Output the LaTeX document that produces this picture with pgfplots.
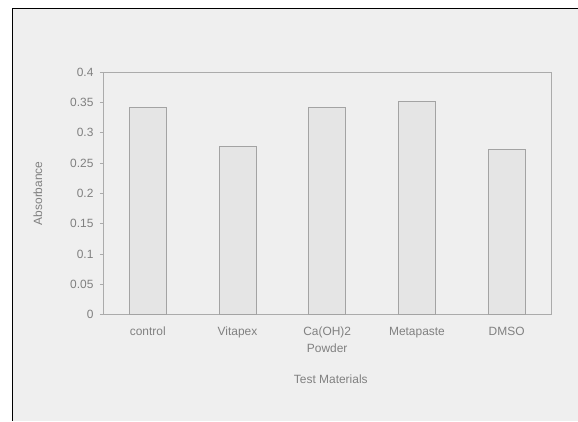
\documentclass[border=0pt]{standalone}
\usepackage{pgfplots}
\pgfplotsset{compat=1.18}
\usepackage{fontspec}
\setmainfont{Liberation Sans}
\definecolor{bg}{HTML}{EFEFEF}
\definecolor{axl}{HTML}{ABABAB}
\definecolor{barf}{HTML}{E5E5E5}
\definecolor{bare}{HTML}{A3A3A3}
\definecolor{txt}{HTML}{808080}
\begin{document}
\begin{tikzpicture}
\fill[white] (0,0) rectangle (578bp,421bp);
\fill[bg] (13bp,0) rectangle (578bp,412bp);
\draw[black, line width=1bp] (13bp,0) -- (13bp,412bp) -- (578bp,412bp);
\begin{axis}[
  at={(103bp,106bp)}, anchor=south west,
  scale only axis, width=449bp, height=243bp,
  xmin=-0.5, xmax=4.5, ymin=0, ymax=0.4,
  axis line style={axl, line width=0.8bp},
  font=\fontsize{12}{17}\selectfont,
  every tick label/.append style={text=txt},
  label style={text=txt},
  xtick pos=bottom, ytick pos=left,
  xtick={0,1,2,3,4},
  xticklabels={control,Vitapex,{Ca(OH)2\\Powder},Metapaste,DMSO},
  xticklabel style={align=center, yshift=-6bp},
  x tick style={draw=none},
  extra x ticks={0.5,1.5,2.5,3.5},
  extra x tick labels={},
  extra x tick style={tick align=inside, major tick length=2bp, tick style={draw=axl}},
  ytick={0,0.05,0.1,0.15,0.2,0.25,0.3,0.35,0.4},
  yticklabels={0,0.05,0.1,0.15,0.2,0.25,0.3,0.35,0.4},
  y tick style={draw=axl, line width=0.6bp},
  tick align=outside, major tick length=3bp,
  yticklabel style={xshift=-3bp},
  xlabel={Test Materials},
  ylabel={Absorbance},
  x label style={at={(axis description cs:0.508,-0.267)}, anchor=center},
  y label style={at={(axis description cs:-0.145,0.5)}, anchor=center},
  ybar, bar width=37bp,
]
\addplot[fill=barf, draw=bare, line width=0.8bp] coordinates {
  (0,0.342) (1,0.277) (2,0.341) (3,0.351) (4,0.272)
};
\end{axis}
\end{tikzpicture}
\end{document}
